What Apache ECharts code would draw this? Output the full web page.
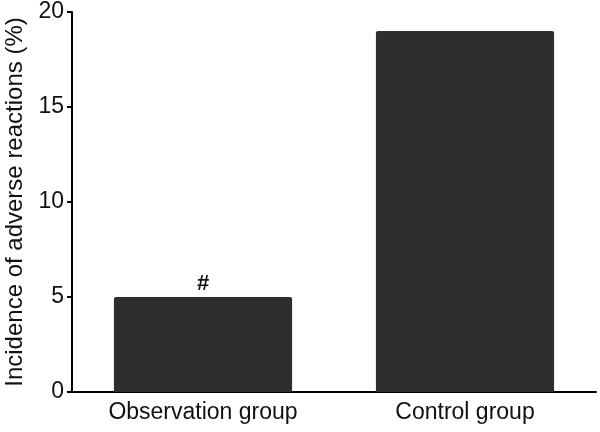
<!DOCTYPE html>
<html><head><meta charset="utf-8">
<script src="https://cdn.jsdelivr.net/npm/echarts@6/dist/echarts.min.js"></script>
<style>html,body{margin:0;padding:0;background:#fff}#c{width:600px;height:432px}</style>
</head><body><div id="c"></div>
<script>
const categories = ["Observation group", "Control group"];
const values = [5, 19];
const marks = ["#", ""];
const yTicks = [0, 5, 10, 15, 20];
const yName = "Incidence of adverse reactions (%)";

const chart = echarts.init(document.getElementById('c'), null, {renderer: 'canvas'});
const font = '"Liberation Sans", Arial, sans-serif';
chart.setOption({
  animation: false,
  backgroundColor: '#fff',
  grid: {left: 72, right: 4, top: 12, bottom: 40, containLabel: false, outerBoundsMode: 'none'},
  xAxis: {
    type: 'category', data: categories,
    axisLine: {lineStyle: {color: '#000', width: 2}},
    axisTick: {alignWithLabel: true, length: 6, lineStyle: {color: '#000', width: 2}},
    axisLabel: {color: '#111', fontFamily: font, fontSize: 23, margin: 9}
  },
  yAxis: {
    type: 'value', min: yTicks[0], max: yTicks[yTicks.length - 1], interval: 5,
    name: yName, nameLocation: 'middle', nameGap: 44,
    nameTextStyle: {color: '#111', fontFamily: font, fontSize: 24},
    splitLine: {show: false},
    axisLine: {show: true, lineStyle: {color: '#000', width: 2}},
    axisTick: {show: true, length: 5, lineStyle: {color: '#000', width: 2}},
    axisLabel: {color: '#111', fontFamily: font, fontSize: 23, margin: 8}
  },
  series: [{
    type: 'bar', barWidth: '68%',
    data: values.map((v, i) => ({value: v, label: {show: !!marks[i], formatter: marks[i]}})),
    itemStyle: {color: '#2e2e2e', borderRadius: [2, 2, 0, 0]},
    label: {position: 'top', distance: 2, color: '#111', fontFamily: font, fontSize: 22, fontWeight: 'bold'}
  }]
});
</script></body></html>
